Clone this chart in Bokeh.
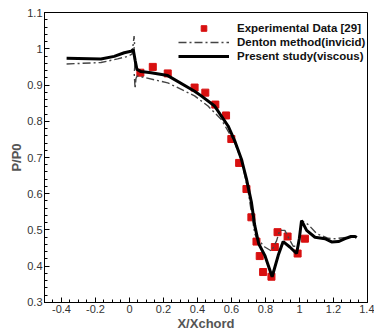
from bokeh.plotting import figure
from bokeh.models import SingleIntervalTicker, CustomJSTickFormatter, Range1d
from bokeh.embed import file_html
from bokeh.resources import INLINE

# Experimental data [29]
exp_x = [0.064, 0.137, 0.225, 0.383, 0.446, 0.505, 0.568, 0.599, 0.645, 0.688,
         0.717, 0.747, 0.766, 0.786, 0.835, 0.855, 0.871, 0.930, 0.989, 1.032]
exp_y = [0.934, 0.950, 0.932, 0.893, 0.879, 0.846, 0.816, 0.751, 0.685, 0.613,
         0.535, 0.468, 0.428, 0.384, 0.371, 0.453, 0.494, 0.482, 0.435, 0.476]

# Denton method (invicid)
den_x = [-0.37, -0.168, -0.07, -0.011, 0.015, 0.027, 0.030, 0.025, 0.032, 0.028,
         0.033, 0.038, 0.045, 0.068, 0.225, 0.383, 0.462, 0.540, 0.619, 0.660,
         0.697, 0.720, 0.737, 0.747, 0.796, 0.835, 0.865, 0.884, 0.914, 0.934,
         0.963, 0.993, 1.012, 1.052, 1.101, 1.170, 1.209, 1.288, 1.300]
den_y = [0.958, 0.962, 0.972, 0.979, 0.985, 1.035, 1.010, 0.995, 0.960, 0.930,
         0.890, 0.918, 0.925, 0.923, 0.906, 0.870, 0.842, 0.805, 0.741, 0.690,
         0.610, 0.540, 0.490, 0.478, 0.453, 0.442, 0.470, 0.499, 0.499, 0.480,
         0.455, 0.455, 0.526, 0.515, 0.490, 0.477, 0.476, 0.480, 0.482]

# Present study (viscous)
pre_x = [-0.37, -0.168, -0.09, -0.031, 0.009, 0.022, 0.034, 0.044, 0.068, 0.127,
         0.225, 0.383, 0.422, 0.501, 0.580, 0.619, 0.658, 0.688, 0.717, 0.737,
         0.760, 0.796, 0.839, 0.875, 0.904, 0.943, 0.983, 0.999, 1.012, 1.042,
         1.091, 1.150, 1.189, 1.229, 1.268, 1.303, 1.327, 1.337]
pre_y = [0.974, 0.972, 0.979, 0.989, 0.993, 0.998, 0.966, 0.943, 0.937, 0.934,
         0.926, 0.883, 0.870, 0.842, 0.787, 0.746, 0.696, 0.641, 0.577, 0.512,
         0.462, 0.430, 0.371, 0.430, 0.468, 0.453, 0.435, 0.476, 0.526, 0.499,
         0.480, 0.476, 0.467, 0.468, 0.476, 0.482, 0.482, 0.479]

x_label = "X/Xchord"
y_label = "P/P0"

FONT = "Liberation Sans"

p = figure(width=374, height=333, output_backend="svg", toolbar_location=None,
           x_range=Range1d(-0.5, 1.4001), y_range=Range1d(0.2999, 1.1001),
           min_border_left=44, min_border_right=7, min_border_top=12, min_border_bottom=29)
p.background_fill_color = "white"
p.border_fill_color = "white"
p.outline_line_color = "black"
p.outline_line_width = 1
p.xgrid.visible = False
p.ygrid.visible = False

fmt = CustomJSTickFormatter(code="""
var s = tick.toFixed(1);
if (s.endsWith('.0')) { s = s.slice(0, -2); }
if (s === '-0') { s = '0'; }
return s;
""")

p.xaxis.ticker = SingleIntervalTicker(interval=0.2, num_minor_ticks=4)
p.yaxis.ticker = SingleIntervalTicker(interval=0.1, num_minor_ticks=5)
for ax in (p.xaxis[0], p.yaxis[0]):
    ax.formatter = fmt
    ax.major_tick_in = 5
    ax.major_tick_out = 0
    ax.minor_tick_in = 3
    ax.minor_tick_out = 0
    ax.axis_line_color = "black"
    ax.major_tick_line_color = "black"
    ax.minor_tick_line_color = "black"
    ax.major_label_text_font = FONT
    ax.major_label_text_font_size = "11px"
    ax.major_label_text_color = "#333333"
    ax.axis_label_text_font = FONT
    ax.axis_label_text_font_size = "13px"
    ax.axis_label_text_font_style = "bold"
    ax.axis_label_text_color = "#555555"
    ax.major_label_standoff = 2
    ax.axis_label_standoff = 0

p.xaxis.axis_label = x_label
p.yaxis.axis_label = y_label

p.scatter(exp_x, exp_y, marker="square", size=7, color="#d81010",
          legend_label="Experimental Data [29]")
p.line(den_x, den_y, line_color="#444444", line_width=1.4, line_dash="8 3 2 3",
       legend_label="Denton method(invicid)")
p.line(pre_x, pre_y, line_color="black", line_width=3,
       legend_label="Present study(viscous)")

lg = p.legend[0]
lg.location = (134, 239)
lg.border_line_color = None
lg.background_fill_alpha = 0
lg.margin = 0
lg.padding = 5
lg.spacing = 0
lg.glyph_width = 51
lg.glyph_height = 14
lg.label_height = 14
lg.label_standoff = 8
lg.label_text_font = FONT
lg.label_text_font_size = "11.5px"
lg.label_text_font_style = "bold"
lg.label_text_color = "#111111"

open("out.html", "w").write(file_html(p, INLINE))
